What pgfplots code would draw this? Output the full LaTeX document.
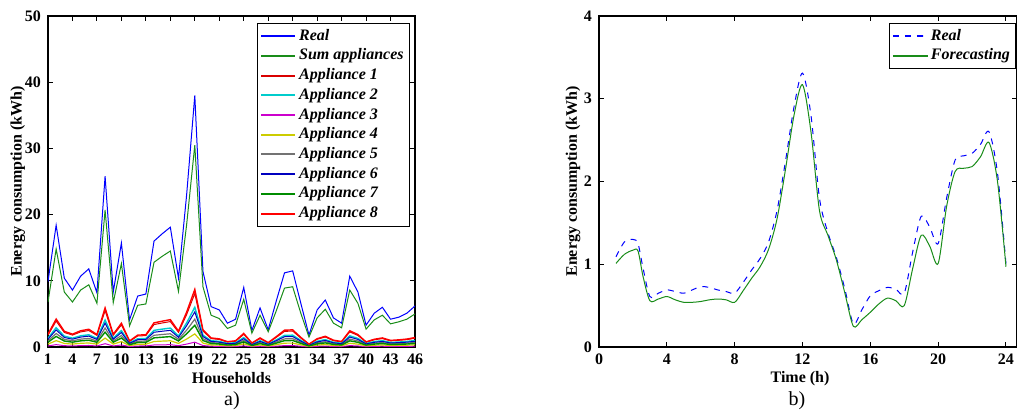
\documentclass[border=0pt]{standalone}
\usepackage{pgfplots}
\usepackage{pgfplotstable}
\pgfplotsset{compat=1.18}
\usepackage{fontspec}
\setmainfont{Liberation Serif}

\definecolor{mblue}{rgb}{0,0,1}
\definecolor{mgreen}{rgb}{0.1,0.55,0.1}
\definecolor{mred}{rgb}{1,0,0}
\definecolor{mcyan}{rgb}{0,0.8,0.8}
\definecolor{mmag}{rgb}{0.8,0,0.8}
\definecolor{myel}{rgb}{0.8,0.8,0}
\definecolor{mgray}{rgb}{0.45,0.45,0.45}

% households: real, sum of appliances, appliances 1..8 (kWh)
\pgfplotstableread{
h real sum a1 a2 a3 a4 a5 a6 a7 a8
1 9.9 6.8 1.80 1.34 0.16 0.44 0.94 1.18 0.73 1.94
2 18.4 14.8 3.92 2.92 0.36 0.96 2.04 2.58 1.60 4.22
3 10.4 8.3 2.20 1.64 0.20 0.54 1.15 1.44 0.90 2.37
4 8.6 6.8 1.80 1.34 0.16 0.44 0.94 1.18 0.73 1.94
5 10.7 8.6 2.28 1.69 0.21 0.56 1.19 1.50 0.93 2.45
6 11.8 9.4 2.49 1.85 0.23 0.61 1.30 1.64 1.02 2.68
7 8.2 6.6 1.75 1.30 0.16 0.43 0.91 1.15 0.71 1.88
8 25.8 20.7 5.49 4.08 0.50 1.35 2.86 3.60 2.24 5.90
9 8.3 6.7 1.78 1.32 0.16 0.44 0.92 1.17 0.72 1.91
10 15.7 12.6 3.34 2.48 0.30 0.82 1.74 2.19 1.36 3.59
11 4.1 3.2 0.85 0.63 0.08 0.21 0.44 0.56 0.35 0.91
12 7.7 6.3 1.67 1.24 0.15 0.41 0.87 1.10 0.68 1.80
13 8.0 6.5 1.72 1.28 0.16 0.42 0.90 1.13 0.70 1.85
14 16.0 12.8 3.39 2.52 0.31 0.83 1.77 2.23 1.38 3.65
15 17.1 13.7 3.63 2.70 0.33 0.89 1.89 2.38 1.48 3.90
16 18.1 14.5 3.84 2.86 0.35 0.94 2.00 2.52 1.57 4.13
17 10.4 8.4 2.23 1.65 0.20 0.55 1.16 1.46 0.91 2.39
18 23.0 18.5 4.90 3.64 0.44 1.20 2.55 3.22 2.00 5.27
19 38.0 30.5 8.08 6.01 0.73 1.98 4.21 5.31 3.29 8.69
20 11.4 9.1 2.41 1.79 0.22 0.59 1.26 1.58 0.98 2.59
21 6.1 4.8 1.27 0.95 0.12 0.31 0.66 0.84 0.52 1.37
22 5.6 4.3 1.14 0.85 0.10 0.28 0.59 0.75 0.46 1.23
23 3.6 2.8 0.74 0.55 0.07 0.18 0.39 0.49 0.30 0.80
24 4.2 3.3 0.87 0.65 0.08 0.21 0.46 0.57 0.36 0.94
25 9.0 7.2 1.91 1.42 0.17 0.47 0.99 1.25 0.78 2.05
26 2.5 2.1 0.56 0.41 0.05 0.14 0.29 0.37 0.23 0.60
27 5.9 4.8 1.27 0.95 0.12 0.31 0.66 0.84 0.52 1.37
28 2.6 2.3 0.61 0.45 0.06 0.15 0.32 0.40 0.25 0.66
29 7.0 5.5 1.46 1.08 0.13 0.36 0.76 0.96 0.59 1.57
30 11.2 8.9 2.36 1.75 0.21 0.58 1.23 1.55 0.96 2.54
31 11.5 9.1 2.41 1.79 0.22 0.59 1.26 1.58 0.98 2.59
32 6.6 5.1 1.35 1.00 0.12 0.33 0.70 0.89 0.55 1.45
33 1.8 1.5 0.40 0.30 0.04 0.10 0.21 0.26 0.16 0.43
34 5.6 4.4 1.17 0.87 0.11 0.29 0.61 0.77 0.48 1.25
35 7.1 5.7 1.51 1.12 0.14 0.37 0.79 0.99 0.62 1.62
36 4.4 3.6 0.95 0.71 0.09 0.23 0.50 0.63 0.39 1.03
37 3.6 2.9 0.77 0.57 0.07 0.19 0.40 0.50 0.31 0.83
38 10.7 8.6 2.28 1.69 0.21 0.56 1.19 1.50 0.93 2.45
39 8.3 6.6 1.75 1.30 0.16 0.43 0.91 1.15 0.71 1.88
40 3.3 2.7 0.72 0.53 0.06 0.18 0.37 0.47 0.29 0.77
41 5.1 4.1 1.09 0.81 0.10 0.27 0.57 0.71 0.44 1.17
42 6.0 4.8 1.27 0.95 0.12 0.31 0.66 0.84 0.52 1.37
43 4.2 3.5 0.93 0.69 0.08 0.23 0.48 0.61 0.38 1.00
44 4.5 3.8 1.01 0.75 0.09 0.25 0.52 0.66 0.41 1.08
45 5.1 4.2 1.11 0.83 0.10 0.27 0.58 0.73 0.45 1.20
46 6.2 5.0 1.33 0.99 0.12 0.33 0.69 0.87 0.54 1.43
}\households

% daily profile: real vs forecasting (kWh)
\pgfplotstableread{
t real fc
1 1.09 1.01
1.5 1.27 1.12
2 1.30 1.17
2.3 1.25 1.16
2.6 0.95 0.85
3 0.61 0.56
3.5 0.65 0.58
4 0.69 0.61
4.5 0.67 0.57
5 0.65 0.54
5.5 0.69 0.54
6 0.73 0.55
6.5 0.72 0.57
7 0.69 0.58
7.5 0.67 0.57
8 0.65 0.54
8.5 0.78 0.68
9 0.93 0.83
9.5 1.07 0.97
10 1.27 1.18
10.5 1.65 1.55
11 2.25 2.15
11.5 2.90 2.80
12 3.31 3.17
12.5 2.80 2.60
13 1.80 1.65
13.5 1.38 1.35
14 1.08 1.05
14.5 0.70 0.65
15 0.28 0.25
15.5 0.45 0.33
16 0.62 0.42
16.5 0.68 0.52
17 0.72 0.59
17.5 0.70 0.56
18 0.65 0.50
18.5 1.15 0.95
19 1.58 1.35
19.5 1.45 1.22
20 1.25 1.01
20.5 1.80 1.70
21 2.26 2.12
21.5 2.31 2.16
22 2.34 2.18
22.5 2.45 2.30
23 2.60 2.47
23.5 2.10 2.00
24 1.00 0.97
}\profile

\pgfplotsset{
  every axis/.append style={
    scale only axis,
    axis line style={line width=0.6pt},
    tick style={line width=0.5pt, black},
    major tick length=2.5pt,
    tick align=inside,
    /pgf/number format/assume math mode=true,
    tick label style={font=\fontsize{8}{9}\selectfont\bfseries},
    label style={font=\fontsize{8}{9}\selectfont\bfseries},
    legend style={font=\fontsize{8}{9}\selectfont\bfseries\itshape,
      inner sep=1.5pt, nodes={inner sep=1.4pt}},
    legend cell align=left,
    legend image post style={line width=1pt},
  },
}

\begin{document}
\begin{tikzpicture}
\useasboundingbox (0,0) rectangle (508.5pt,209.5pt);

\begin{axis}[
    at={(24pt,36pt)}, anchor=south west,
    width=183.5pt, height=165.5pt,
    xmin=1, xmax=46, ymin=0, ymax=50,
    xtick={1,4,...,46}, ytick={0,10,...,50},
    xlabel={Households},
    ylabel={Energy consumption (kWh)},
    xlabel style={at={(axis description cs:0.5,0)}, anchor=center, yshift=-15.5pt},
    ylabel style={at={(axis description cs:-0.082,0.5)}, anchor=center},
    legend style={at={(0.986,0.979)}, anchor=north east},
]
\addplot[color=mblue, line width=0.5pt] table[x=h, y=real] {\households};
\addlegendentry{Real}
\addplot[color=mgreen, line width=0.5pt] table[x=h, y=sum] {\households};
\addlegendentry{Sum appliances}
\addplot[color=red!85!black, line width=0.5pt] table[x=h, y=a1] {\households};
\addlegendentry{Appliance 1}
\addplot[color=mcyan, line width=0.7pt] table[x=h, y=a2] {\households};
\addlegendentry{Appliance 2}
\addplot[color=mmag, line width=0.5pt] table[x=h, y=a3] {\households};
\addlegendentry{Appliance 3}
\addplot[color=myel, line width=0.6pt] table[x=h, y=a4] {\households};
\addlegendentry{Appliance 4}
\addplot[color=mgray, line width=0.6pt] table[x=h, y=a5] {\households};
\addlegendentry{Appliance 5}
\addplot[color=blue!75!black, line width=0.5pt] table[x=h, y=a6] {\households};
\addlegendentry{Appliance 6}
\addplot[color=green!55!black, line width=0.7pt] table[x=h, y=a7] {\households};
\addlegendentry{Appliance 7}
\addplot[color=mred, line width=0.7pt] table[x=h, y=a8] {\households};
\addlegendentry{Appliance 8}
\end{axis}

\begin{axis}[
    at={(299.5pt,36pt)}, anchor=south west,
    width=209pt, height=165.5pt,
    xmin=0, xmax=24.65, ymin=0, ymax=4,
    xtick={0,4,...,24}, ytick={0,1,...,4},
    xlabel={Time (h)},
    ylabel={Energy consumption (kWh)},
    xlabel style={at={(axis description cs:0.481,0)}, anchor=center, yshift=-16pt},
    ylabel style={at={(axis description cs:-0.062,0.5)}, anchor=center},
    legend style={at={(0.998,0.979)}, anchor=north east},
]
\addplot[color=mblue, dashed, line width=0.5pt, smooth] table[x=t, y=real] {\profile};
\addlegendentry{Real}
\addplot[color=mgreen, line width=0.5pt, smooth] table[x=t, y=fc] {\profile};
\addlegendentry{Forecasting}
\end{axis}

\node[font=\fontsize{10}{12}\selectfont] at (116pt,9pt) {a)};
\node[font=\fontsize{10}{12}\selectfont] at (398.5pt,9pt) {b)};
\end{tikzpicture}
\end{document}
